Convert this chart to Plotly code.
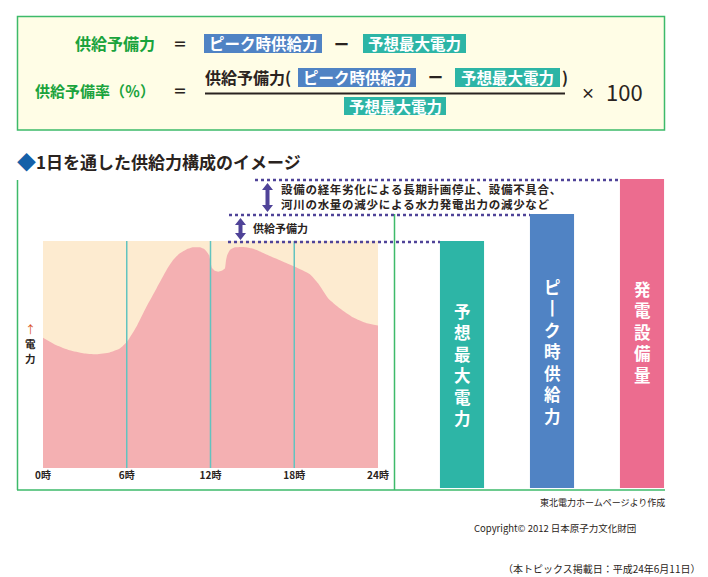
import plotly.graph_objects as go

W, H = 708, 577
FONT = "Noto Sans CJK JP"

hours = [0, 0.96, 1.91, 2.87, 3.82, 4.78, 5.5, 6.02, 6.69, 7.41, 8.13, 8.85, 9.32, 9.8, 10.28, 10.76,
         11.24, 11.59, 11.9, 12.0, 12.1, 12.31, 12.55, 12.79, 13.03, 13.1, 13.2, 13.39, 13.75, 14.34,
         14.94, 15.54, 16.26, 17.21, 18.05, 19.12, 19.72, 20.44, 21.28, 22.23, 23.19, 24]
power = [57.4, 54.1, 51.9, 50.6, 50.1, 50.9, 52.6, 55.6, 62.2, 71.0, 79.1, 87.2, 91.6, 94.6, 96.3, 97.2,
         97.2, 96.3, 93.8, 90.9, 88.2, 86.9, 86.5, 86.9, 87.9, 90.9, 93.8, 96.0, 97.2, 97.4,
         96.8, 95.4, 93.4, 90.9, 88.7, 85.4, 81.3, 74.7, 70.3, 66.3, 63.8, 62.8]
band_hours = [0, 24]
band_top = [100, 100]
grid_hours = [6, 12, 18]
tick_hours = [0, 6, 12, 18, 24]
tick_labels = ["0時", "6時", "12時", "18時", "24時"]
bar_names = ["予想最大電力", "ピーク時供給力", "発電設備量"]
bar_values = [247, 274, 309]
bar_colors = ["#2db5a6", "#5083c4", "#ec6c8f"]
bar_label_lines = ["予<br>想<br>最<br>大<br>電<br>力", "ピ<br>┃<br>ク<br>時<br>供<br>給<br>力", "発<br>電<br>設<br>備<br>量"]

GREEN = "#3dba6a"
PURPLE = "#4f4398"
BLUE, TEAL = bar_colors[1], bar_colors[0]
INK = "#2a2320"

def px(x): return x / W
def py(y): return 1 - y / H

fig = go.Figure()
fig.add_trace(go.Scatter(x=band_hours, y=band_top, mode="lines", fill="tozeroy", fillcolor="#fdebd0",
                         line=dict(width=0), xaxis="x", yaxis="y", hoverinfo="skip"))
fig.add_trace(go.Scatter(x=hours, y=power, mode="lines", fill="tozeroy", fillcolor="#f4b0b2",
                         line=dict(width=0, shape="spline", smoothing=0.5), xaxis="x", yaxis="y"))
for h in grid_hours:
    fig.add_trace(go.Scatter(x=[h, h], y=[0, 100], mode="lines", line=dict(color="#62c3bf", width=1.5),
                             xaxis="x", yaxis="y", hoverinfo="skip"))
fig.add_trace(go.Bar(x=bar_names, y=bar_values, marker=dict(color=bar_colors, line=dict(width=0)),
                     xaxis="x2", yaxis="y2"))

shapes, ann = [], []

def rect(x0, y0, x1, y1, fill, line=None, lw=0):
    shapes.append(dict(type="rect", xref="paper", yref="paper", x0=px(x0), x1=px(x1), y0=py(y0), y1=py(y1),
                       fillcolor=fill, line=dict(color=line or fill, width=lw), layer="below"))

def hline(x0, y0, x1, y1, color, w):
    shapes.append(dict(type="line", xref="paper", yref="paper", x0=px(x0), x1=px(x1), y0=py(y0), y1=py(y1),
                       line=dict(color=color, width=w)))

def text(x, y, s, size=15, color=INK, anchor="center", bold=True):
    ann.append(dict(xref="paper", yref="paper", x=px(x), y=py(y), text=s, showarrow=False, xanchor=anchor,
                    yanchor="middle", font=dict(family=FONT, size=size, color=color,
                                                weight="bold" if bold else "normal")))

def spaced(s):
    return "\u200a".join(s)

def double_arrow(x, top, bottom, half_head=5.5, head=7, half_shaft=2):
    pts = [(x, top), (x + half_head, top + head), (x + half_shaft, top + head),
           (x + half_shaft, bottom - head), (x + half_head, bottom - head), (x, bottom),
           (x - half_head, bottom - head), (x - half_shaft, bottom - head),
           (x - half_shaft, top + head), (x - half_head, top + head)]
    path = "M" + " L".join(f"{px(a):.5f},{py(b):.5f}" for a, b in pts) + " Z"
    shapes.append(dict(type="path", xref="paper", yref="paper", path=path, fillcolor=PURPLE,
                       line=dict(width=0)))

# formula panel
rect(17.5, 16.5, 664.5, 130, "#fffde6", GREEN, 1.5)
rect(204, 34, 322, 53, BLUE)
rect(363, 34, 466, 53, TEAL)
rect(298, 68, 416, 87, BLUE)
rect(455, 68, 560, 87, TEAL)
rect(344, 97, 446, 115, TEAL)
hline(205, 93.5, 565, 93.5, INK, 1.8)

LABEL_GREEN = "#1aa33c"
text(157, 43, "供給予備力", 16, LABEL_GREEN, "right")
text(157, 90, "供給予備率（％）", 15, LABEL_GREEN, "right")
text(180, 43, "＝", 14)
text(180, 90, "＝", 14)
text(263, 43, "ピーク時供給力", 15.5, "white")
text(341, 43, "ー", 15)
text(414.5, 43, "予想最大電力", 15.5, "white")
text(203, 77, "供給予備力(", 16, INK, "left")
text(357, 77, "ピーク時供給力", 15.5, "white")
text(435, 77, "ー", 15)
text(507.5, 77, "予想最大電力", 15.5, "white")
text(565, 77, ")", 16)
text(395, 106, "予想最大電力", 15.5, "white")
text(588, 92, "×", 14)
text(624, 91, "100", 22, INK, bold=False)

# heading
text(15, 161, "◆", 19, "#1560a8", "left")
text(34, 161, "1日を通した供給力構成のイメージ", 17, INK, "left")

# frame lines
hline(17.5, 180, 17.5, 490, GREEN, 1.5)
hline(17, 490, 665, 490, GREEN, 1.5)
hline(394.5, 214, 394.5, 490, GREEN, 1.5)

# dotted levels, tied to the bar heights
for x0, x1, v in [(228, 440, bar_values[0]), (229, 530, bar_values[1]), (255, 620, bar_values[2])]:
    shapes.append(dict(type="line", xref="paper", yref="y2", x0=px(x0), x1=px(x1), y0=v - 1, y1=v - 1,
                       line=dict(color=PURPLE, width=2.5, dash="dot")))

# double arrows
double_arrow(240.5, 218, 240)
double_arrow(267.5, 183, 212)

text(279, 189, spaced("設備の経年劣化による長期計画停止、設備不具合、"), 11.5, INK, "left")
text(279, 204, spaced("河川の水量の減少による水力発電出力の減少など"), 11.5, INK, "left")
text(251, 228, "供給予備力", 11, INK, "left")

# y label
text(30.5, 329, "↑", 11, "#d9531e", bold=False)
text(30.5, 343, "電", 10.5)
text(30.5, 358, "力", 10.5)

# bar labels
for x, y, s in zip([462, 552, 642], [364, 351, 332], bar_label_lines):
    text(x, y, s, 16.5, "white")

# footers
text(667, 502, "東北電力ホームページより作成", 9, INK, "right", bold=False)
text(472, 528, "Copyright© 2012 日本原子力文化財団", 9.5, INK, "left", bold=False)
text(702, 568, "（本トピックス掲載日：平成24年6月11日）", 10, INK, "right", bold=False)

fig.update_layout(
    width=W, height=H, margin=dict(l=0, r=0, t=0, b=0), paper_bgcolor="white", plot_bgcolor="rgba(0,0,0,0)",
    showlegend=False, autosize=False, bargap=0.51, shapes=shapes, annotations=ann,
    font=dict(family=FONT),
    xaxis=dict(domain=[px(43), px(378)], range=[0, 24], tickmode="array", tickvals=tick_hours, ticktext=tick_labels,
               showgrid=False, zeroline=False, showline=False, ticks="", automargin=False,
               tickfont=dict(size=10, color=INK, weight="bold", family=FONT), anchor="y", tickangle=0),
    yaxis=dict(domain=[py(468), py(241)], range=[0, 100], visible=False, anchor="x", automargin=False),
    xaxis2=dict(domain=[px(417), px(687)], visible=False, anchor="y2", type="category", automargin=False),
    yaxis2=dict(domain=[py(488), py(178)], range=[0, 310], visible=False, anchor="x2", automargin=False),
)

fig.write_html("out.html", config=dict(displayModeBar=False),
               post_script="document.body.style.margin='0';document.body.style.overflow='hidden';")
